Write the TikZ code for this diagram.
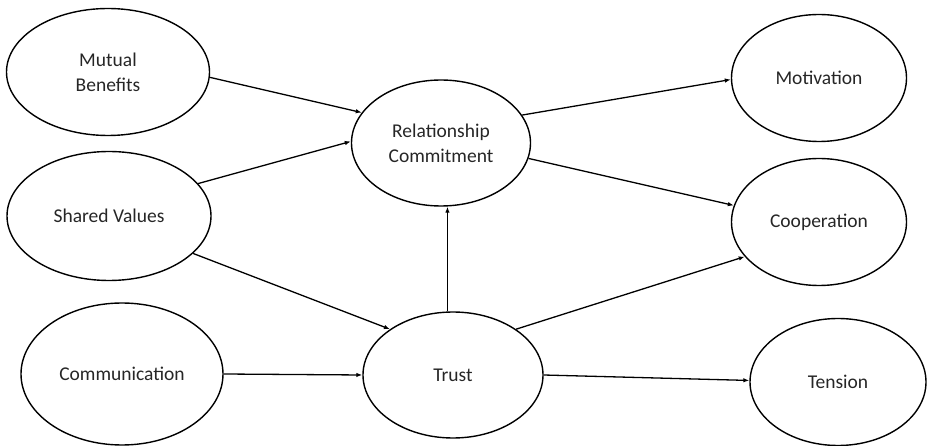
\documentclass[tikz,border=0pt]{standalone}
\usepackage{fontspec}
\setmainfont{Carlito}
\usetikzlibrary{shapes.geometric,arrows.meta}
\begin{document}
\begin{tikzpicture}[x=1pt,y=-1pt,
  oval/.style={draw=black,line width=1.4pt,ellipse,inner sep=0pt,align=center,
    font=\fontsize{19.5}{25}\selectfont,text=black!85},
  conn/.style={draw=black,line width=1.3pt,-{Latex[length=6pt,width=4.5pt]}}]
\useasboundingbox (0,0) rectangle (927,446);
\node[oval,minimum width=203pt,minimum height=127pt] (mb) at (108,72) {Mutual\\Benefits};
\node[oval,minimum width=204pt,minimum height=129pt] (sv) at (109,216) {Shared Values};
\node[oval,minimum width=202pt,minimum height=142pt] (comm) at (122,374) {Communication};
\node[oval,minimum width=179pt,minimum height=126pt] (rc) at (441,143) {Relationship\\Commitment};
\node[oval,minimum width=180pt,minimum height=126pt] (trust) at (453,375) {Trust};
\node[oval,minimum width=175pt,minimum height=127pt] (mot) at (819,78) {Motivation};
\node[oval,minimum width=175pt,minimum height=127pt] (coop) at (819,222) {Cooperation};
\node[oval,minimum width=176pt,minimum height=127pt] (ten) at (838,382) {Tension};
\draw[conn] (mb.-3) -- (rc.159);
\draw[conn] (sv.20) -- (rc.179);
\draw[conn] (sv.-24) -- (trust.144);
\draw[conn] (comm.0) -- (trust.180);
\draw[conn] (trust.95) -- (trust.95 |- rc.south);
\draw[conn] (rc.19.5) -- (mot.181);
\draw[conn] (rc.-10) -- (coop.169);
\draw[conn] (trust.36) -- (coop.205.6);
\draw[conn] (trust.0) -- (ten.179);
\end{tikzpicture}
\end{document}
